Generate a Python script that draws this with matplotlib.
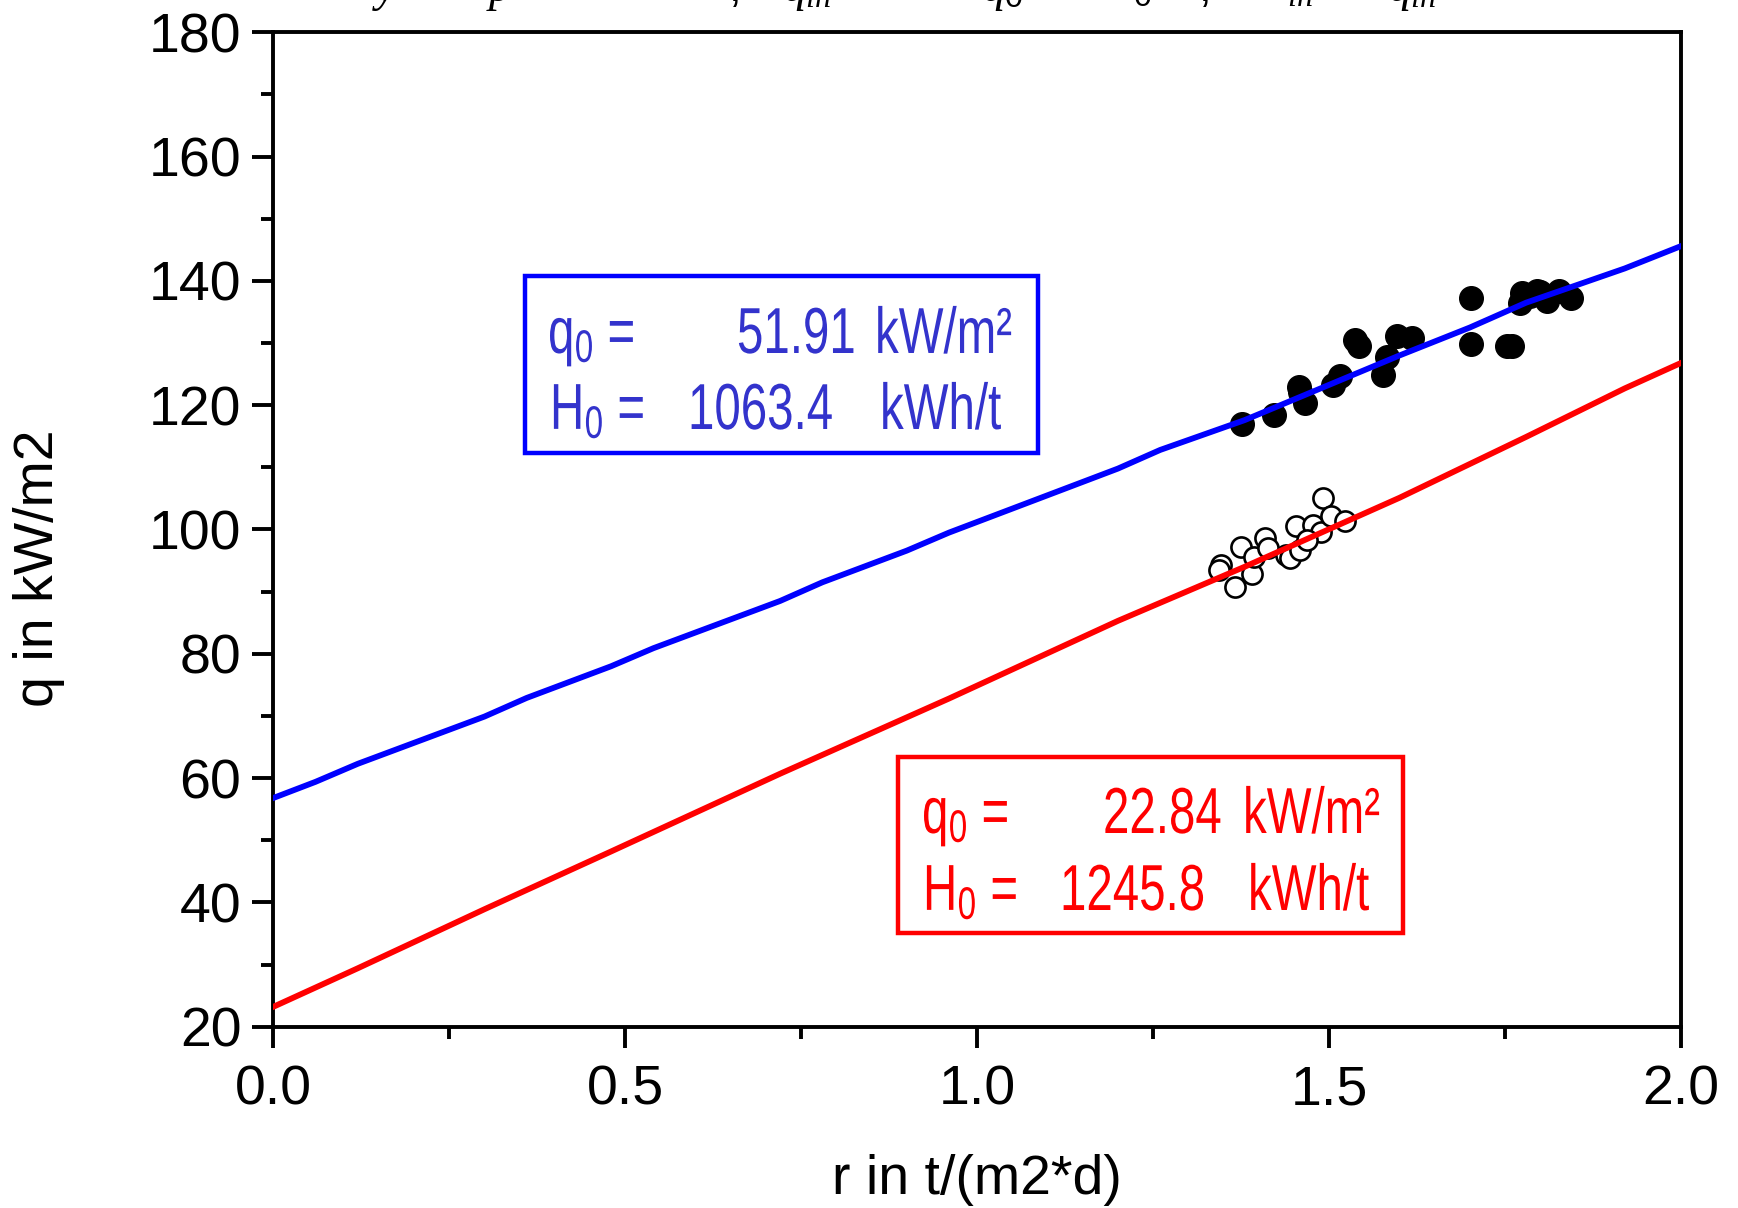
import matplotlib
matplotlib.use("Agg")
import matplotlib.pyplot as plt
from matplotlib.patches import Rectangle, PathPatch
from matplotlib.textpath import TextPath
from matplotlib.font_manager import FontProperties
from matplotlib.transforms import Affine2D
from matplotlib.ticker import MultipleLocator, FormatStrFormatter

plt.rcParams['font.family'] = ['Liberation Sans', 'DejaVu Sans']
plt.rcParams['mathtext.fontset'] = 'custom'
plt.rcParams['mathtext.rm'] = 'Liberation Sans'
plt.rcParams['mathtext.it'] = 'Liberation Serif:italic'

# model curves
r_line = [0.0, 0.06, 0.12, 0.3, 0.36, 0.48, 0.54, 0.72, 0.78, 0.9, 0.96, 1.2, 1.26, 1.38, 1.6, 1.7, 1.78, 1.92, 2.0]
q_blue = [56.8, 59.4, 62.3, 69.9, 72.9, 78.0, 80.9, 88.5, 91.5, 96.6, 99.5, 109.8, 112.8, 117.6, 128.0, 132.5, 136.5, 142.0, 145.6]
r_red = [0.0, 0.12, 0.3, 0.48, 0.72, 0.96, 1.2, 1.38, 1.6, 1.78, 1.92, 2.0]
q_red = [23.2, 29.4, 38.9, 48.2, 60.7, 72.8, 85.3, 94.0, 105.1, 114.9, 122.7, 126.8]

# measured points
r_black = [1.376, 1.422, 1.457, 1.459, 1.466, 1.505, 1.515, 1.537, 1.542, 1.582, 1.576, 1.597, 1.618,
           1.701, 1.701, 1.753, 1.760, 1.771, 1.774, 1.785, 1.795, 1.800, 1.809, 1.826, 1.844]
q_black = [117.0, 118.5, 123.0, 122.2, 120.3, 123.2, 124.7, 130.5, 129.6, 127.7, 124.9, 131.1, 130.8,
           137.2, 129.9, 129.5, 129.6, 136.4, 138.0, 137.5, 138.3, 138.2, 136.7, 138.3, 137.2]
r_white = [1.347, 1.344, 1.375, 1.366, 1.390, 1.394, 1.409, 1.413, 1.439, 1.444, 1.453, 1.477,
           1.491, 1.489, 1.503, 1.522, 1.459, 1.468]
q_white = [94.3, 93.5, 97.2, 90.8, 92.9, 95.5, 98.6, 97.0, 95.9, 95.4, 100.6, 100.7,
           105.0, 99.6, 102.1, 101.3, 96.7, 98.3]

blue_fit = ("51.91", "1063.4")
red_fit = ("22.84", "1245.8")

W, H = 1738, 1208
fig = plt.figure(figsize=(W / 100, H / 100), dpi=100)
ax = fig.add_axes([273.3 / W, 1 - 1026.7 / H, (1681 - 273.3) / W, (1026.7 - 32.3) / H])

ax.plot(r_line, q_blue, color='#0000ff', lw=4.2, zorder=3)
ax.plot(r_red, q_red, color='#ff0000', lw=4.2, zorder=3)
ax.plot(r_black, q_black, 'o', color='black', ms=17, zorder=2)
ax.plot(r_white, q_white, 'o', mfc='white', mec='black', mew=1.9, ms=14.5, zorder=2)

ax.set_xlim(0, 2)
ax.set_ylim(20, 180)
ax.xaxis.set_major_locator(MultipleLocator(0.5))
ax.xaxis.set_minor_locator(MultipleLocator(0.25))
ax.yaxis.set_major_locator(MultipleLocator(20))
ax.yaxis.set_minor_locator(MultipleLocator(10))
ax.xaxis.set_major_formatter(FormatStrFormatter('%.1f'))
for s in ax.spines.values():
    s.set_linewidth(2.8)
ax.tick_params(which='major', length=15, width=2.8, labelsize=40, direction='out')
ax.tick_params(which='minor', length=8.5, width=2.8, direction='out')
ax.tick_params(axis='x', which='major', pad=12)
ax.tick_params(axis='y', which='major', pad=8)

fig.text(977 / W, 1 - 1180 / H, 'r in t/(m2*d)', fontsize=40, ha='center', va='center')
fig.text(39 / W, 1 - 568 / H, 'q in kW/m2', fontsize=40, ha='center', va='center', rotation=90)


def px(x, y):
    return x / W, 1 - y / H


# narrow text: glyph outlines squeezed sideways, placed in picture pixels
box_font = FontProperties(family='Liberation Sans')

def narrow_text(x, y, s, color, size=65, squeeze=0.73):
    path = TextPath((0, 0), s, size=size, prop=box_font)
    tr = Affine2D().scale(squeeze, 1).translate(x, H - y)
    fig.add_artist(PathPatch(path, transform=tr, facecolor=color, edgecolor='none', zorder=6))


def fit_box(x0, y0, x1, y1, edge, tcol, vals, rows):
    fig.patches.append(Rectangle(px(x0, y1), (x1 - x0) / W, (y1 - y0) / H, transform=fig.transFigure,
                                 fill=False, edgecolor=edge, lw=3.2, zorder=5))
    (lx, b1, v1x, u1x), (lx2, b2, v2x, u2x) = rows
    narrow_text(lx, b1, r'q$_\mathrm{0}$ =', tcol)
    narrow_text(v1x, b1, vals[0], tcol)
    narrow_text(u1x, b1, 'kW/m²', tcol)
    narrow_text(lx2, b2, r'H$_\mathrm{0}$ =', tcol)
    narrow_text(v2x, b2, vals[1], tcol)
    narrow_text(u2x, b2, 'kWh/t', tcol)


fit_box(525, 276, 1038, 453, '#0000ff', '#3333cc', blue_fit,
        [(548, 353, 737, 875), (550, 429, 688, 880)])
fit_box(898, 757, 1403, 933, '#ff0000', '#ff0000', red_fit,
        [(922, 833, 1103, 1243), (923, 910, 1060, 1248)])

# title, cut off at the top edge of the picture
title_bits = [(372, '$y$'), (486, '$p$'), (728, '$,$'), (783, '$q_{in}$'), (982, '$q_{0}$'),
              (1100, '$H_{0}$'), (1198, '$,$'), (1262, '$T_{in}$'), (1388, '$q_{in}$')]
for x, s in title_bits:
    fig.text(*px(x, 1), s, fontsize=33, va='baseline', ha='left')

fig.savefig('out.png', dpi=100)
